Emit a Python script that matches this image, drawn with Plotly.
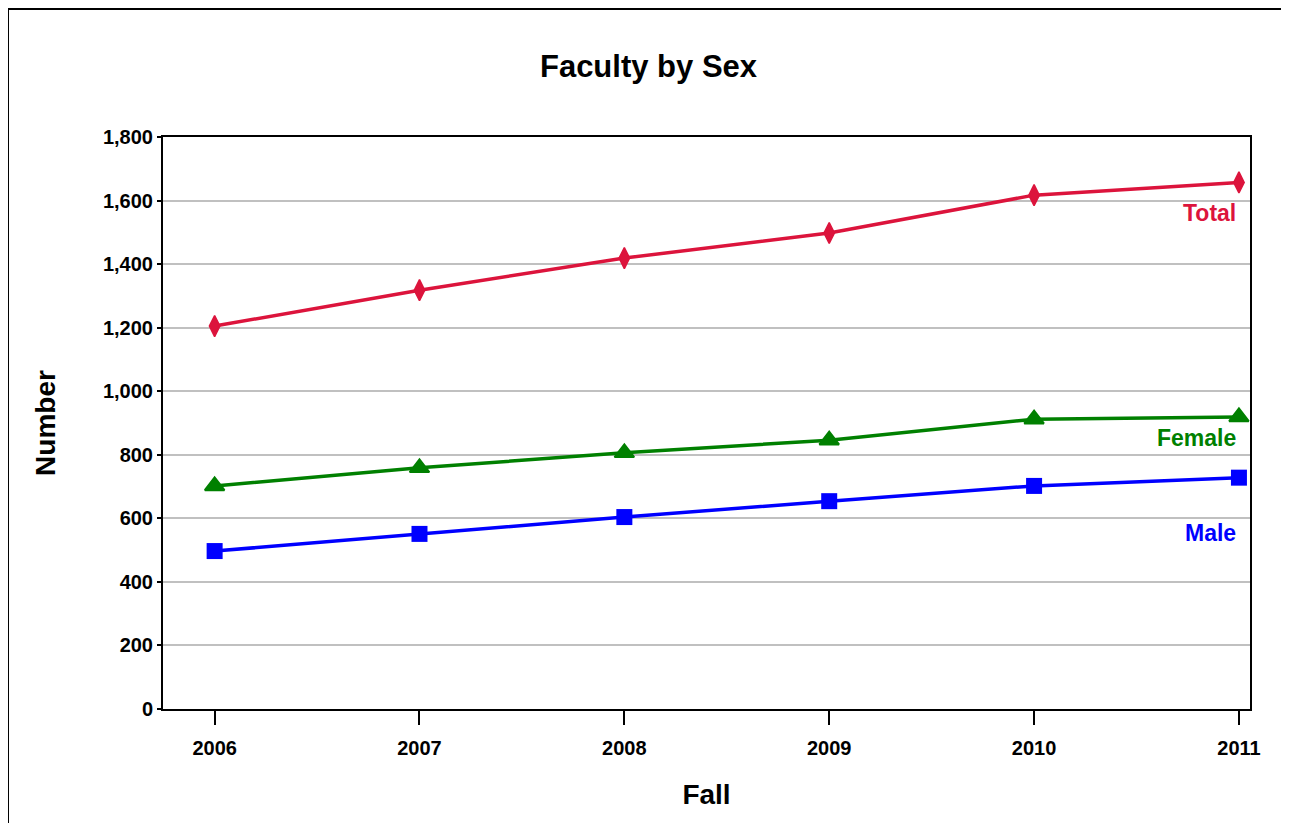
import plotly.graph_objects as go

# Faculty headcount by sex, fall terms
years = [2006, 2007, 2008, 2009, 2010, 2011]
total = [1205, 1318, 1419, 1498, 1617, 1657]
female = [702, 759, 806, 846, 912, 919]
male = [497, 551, 604, 654, 702, 728]

y_ticks = [0, 200, 400, 600, 800, 1000, 1200, 1400, 1600, 1800]

FONT = "Liberation Sans, Arial, sans-serif"

fig = go.Figure()
fig.add_trace(go.Scatter(x=years, y=total, mode='lines+markers', name='Total',
                         line=dict(color='#DC143C', width=3.5),
                         marker=dict(symbol='diamond-tall', size=15, color='#DC143C',
                                     line=dict(color='#DC143C', width=1.5))))
fig.add_trace(go.Scatter(x=years, y=female, mode='lines+markers', name='Female',
                         line=dict(color='#008000', width=3.5),
                         marker=dict(symbol='triangle-up', size=17, color='#008000',
                                     line=dict(color='#008000', width=2))))
fig.add_trace(go.Scatter(x=years, y=male, mode='lines+markers', name='Male',
                         line=dict(color='#0000FF', width=3.5),
                         marker=dict(symbol='square', size=16, color='#0000FF')))

# series labels sit at the right end, under each line
labels = [('Total', 1561, '#DC143C'), ('Female', 853, '#008000'), ('Male', 554, '#0000FF')]
for text, ypos, col in labels:
    fig.add_annotation(x=years[-1], y=ypos, text='<b>%s</b>' % text, showarrow=False,
                       xanchor='right', xshift=-1, font=dict(family=FONT, size=23, color=col))

fig.update_xaxes(range=[2005.748, 2011.054], tickvals=years, ticktext=[str(y) for y in years],
                 ticks='outside', ticklen=14, tickwidth=2, tickcolor='black',
                 ticklabelstandoff=6,
                 showline=True, linecolor='black', linewidth=2, mirror=True,
                 showgrid=False, zeroline=False,
                 tickfont=dict(family=FONT, size=20, color='black', weight='bold'),
                 title=dict(text='<b>Fall</b>', font=dict(family=FONT, size=28, color='black'),
                            standoff=26))
fig.update_yaxes(range=[0, 1800], tickvals=y_ticks, tickformat=',',
                 ticks='outside', ticklen=4, tickwidth=2, tickcolor='black',
                 showline=True, linecolor='black', linewidth=2, mirror=True,
                 showgrid=True, gridcolor='#C0C0C0', gridwidth=2, zeroline=False,
                 tickfont=dict(family=FONT, size=20, color='black', weight='bold'),
                 title=dict(text='<b>Number</b>', font=dict(family=FONT, size=28, color='black'),
                            standoff=39))

# outer chart border
fig.add_shape(type='rect', xref='paper', yref='paper', x0=-0.1426, x1=1.0395, y0=-0.4, y1=1.2238,
              line=dict(color='black', width=2), layer='below')

fig.update_layout(
    width=1281, height=815,
    margin=dict(l=155, r=39, t=129, b=114),
    title=dict(text='<b>Faculty by Sex</b>', x=0.5, xanchor='center', y=0.929, yanchor='middle',
               font=dict(family=FONT, size=31, color='black')),
    plot_bgcolor='white', paper_bgcolor='white',
    showlegend=False,
)

fig.write_html("out.html")
